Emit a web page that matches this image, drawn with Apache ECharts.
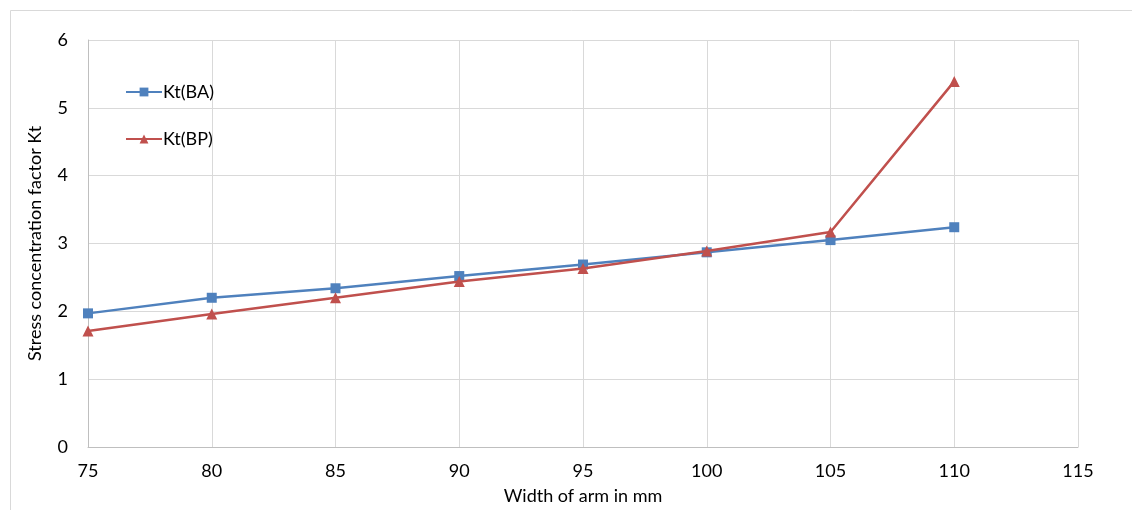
<!DOCTYPE html>
<html><head><meta charset="utf-8">
<script src="https://cdn.jsdelivr.net/npm/echarts@6/dist/echarts.min.js"></script>
<style>html,body{margin:0;padding:0;background:#fff}#c{width:1132px;height:510px}</style>
</head><body><div id="c"></div>
<script>
const widths = [75, 80, 85, 90, 95, 100, 105, 110];
const ktBA = [1.97, 2.20, 2.34, 2.52, 2.69, 2.87, 3.05, 3.24];
const ktBP = [1.71, 1.96, 2.20, 2.44, 2.63, 2.89, 3.17, 5.39];
const xTicks = [75, 80, 85, 90, 95, 100, 105, 110, 115];
const yTicks = [0, 1, 2, 3, 4, 5, 6];
const FONT = 'Lato, "Open Sans", sans-serif';
const FS = 18;
const chart = echarts.init(document.getElementById('c'), null, {renderer: 'canvas'});
chart.setOption({
  animation: false,
  backgroundColor: '#fff',
  textStyle: {fontFamily: FONT},
  graphic: [{type: 'rect', shape: {x: 10.5, y: 10.5, width: 1130, height: 510}, style: {fill: 'none', stroke: '#d9d9d9', lineWidth: 1}, z: -10}],
  grid: {left: 88, top: 40, right: 54, bottom: 63, containLabel: false},
  legend: {
    orient: 'vertical', left: 120, top: 78, itemGap: 29, itemWidth: 36, itemHeight: 11,
    textStyle: {fontSize: FS, color: '#000', fontFamily: FONT, padding: [0, 0, 0, -4]},
    data: ['Kt(BA)', 'Kt(BP)']
  },
  xAxis: {
    type: 'value', min: 75, max: 115, interval: 5,
    name: 'Width of arm in mm', nameLocation: 'middle', nameGap: 40,
    nameTextStyle: {fontSize: FS, color: '#000', fontFamily: FONT},
    axisLine: {show: true, lineStyle: {color: '#bfbfbf'}},
    axisTick: {show: false},
    axisLabel: {fontSize: FS, color: '#000', margin: 15, fontFamily: FONT,
      formatter: v => xTicks.includes(v) ? String(v) : ''},
    splitLine: {show: true, lineStyle: {color: '#d9d9d9'}}
  },
  yAxis: {
    type: 'value', min: 0, max: 6, interval: 1,
    name: 'Stress concentration factor Kt', nameLocation: 'middle', nameGap: 44,
    nameTextStyle: {fontSize: FS, color: '#000', fontFamily: FONT},
    axisLine: {show: true, lineStyle: {color: '#bfbfbf'}},
    axisTick: {show: false},
    axisLabel: {fontSize: FS, color: '#000', margin: 20, fontFamily: FONT,
      formatter: v => yTicks.includes(v) ? String(v) : ''},
    splitLine: {show: true, lineStyle: {color: '#d9d9d9'}}
  },
  series: [
    {name: 'Kt(BA)', type: 'line', data: widths.map((w, i) => [w, ktBA[i]]),
     symbol: 'rect', symbolSize: 10, itemStyle: {color: '#4f81bd'},
     lineStyle: {color: '#4f81bd', width: 2.5}, z: 2},
    {name: 'Kt(BP)', type: 'line', data: widths.map((w, i) => [w, ktBP[i]]),
     symbol: 'triangle', symbolSize: 11, itemStyle: {color: '#c0504d'},
     lineStyle: {color: '#c0504d', width: 2.5}, z: 3}
  ]
});
</script></body></html>
